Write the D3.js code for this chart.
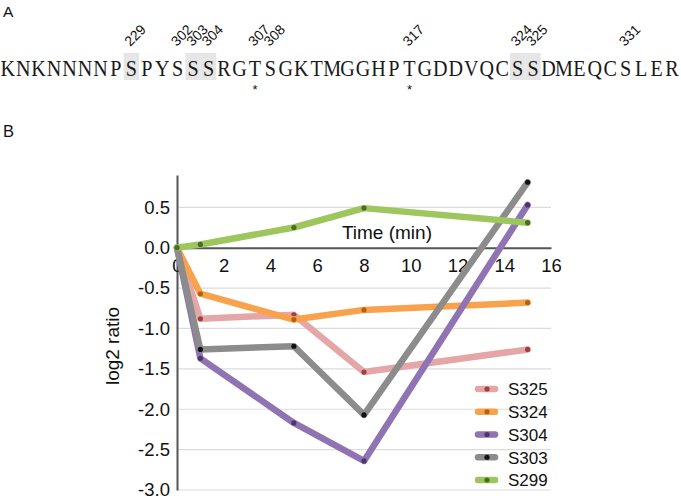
<!DOCTYPE html>
<html><head><meta charset="utf-8">
<script src="https://cdn.jsdelivr.net/npm/d3@7"></script>
<style>body{margin:0;background:#fff}svg{display:block}</style>
</head><body>
<svg id="c" width="681" height="503"></svg>
<script>
// Panel A data
const sequence = "KNKNNNNPSPYSSSRGTSGKTMGGHPTGDDVQCSSDMEQCSLER";
const siteLabels = ["229","302","303","304","307","308","317","324","325","331"];
const siteIndex = [8,11,12,13,16,17,26,33,34,40];
const highlightIndex = [8,12,13,33,34];
const asteriskIndex = [16,26];

// Panel B data
const times = [0,1,5,8,15];
const seriesNames = ["S325","S324","S304","S303","S299"];
const S325 = [0,-0.88,-0.83,-1.54,-1.26];
const S324 = [0,-0.57,-0.89,-0.77,-0.68];
const S304 = [0,-1.37,-2.17,-2.64,0.53];
const S303 = [0,-1.26,-1.22,-2.07,0.81];
const S299 = [0,0.04,0.25,0.49,0.31];
const xTicks = [0,2,4,6,8,10,12,14,16];
const yTicks = [0.5,0,-0.5,-1,-1.5,-2,-2.5,-3];

const seriesValues = [S325,S324,S304,S303,S299];
const lineColors = ["#e4a6a6","#f9a24d","#8f73b2","#8c8c8c","#9dc65c"];
const dotColors = ["#a13e3e","#b5620f","#4b3670","#111111","#4d6a27"];

const svg = d3.select("#c");
const font = "Arial, Liberation Sans, Helvetica, sans-serif";

// ---- Panel A ----
svg.append("text").attr("x",3).attr("y",17).attr("font-family",font)
  .attr("font-size",15.5).attr("fill","#111").text("A");
const cw = 15.45;
const seqX = d3.scaleLinear().domain([0,sequence.length]).range([0,cw*sequence.length]);
svg.selectAll("rect.hl").data(highlightIndex).enter().append("rect")
  .attr("x",d=>seqX(d)).attr("y",53).attr("width",cw).attr("height",27).attr("fill","#e6e6e6");
const sx = 0.84;
const seqText = svg.append("text").attr("transform",`scale(${sx},1)`)
  .attr("font-family","Liberation Serif, DejaVu Serif, serif").attr("font-size",24)
  .attr("fill","#1a1a1a").attr("text-anchor","middle");
seqText.selectAll("tspan").data(sequence.split("")).enter().append("tspan")
  .attr("x",(d,i)=>(seqX(i)+cw/2)/sx).attr("y",76).text(d=>d);
svg.selectAll("text.site").data(siteLabels).enter().append("text")
  .attr("font-family",font).attr("font-size",14).attr("fill","#111")
  .attr("transform",(d,i)=>`translate(${seqX(siteIndex[i])+cw/2-1},47) rotate(-45)`).text(d=>d);
svg.selectAll("text.ast").data(asteriskIndex).enter().append("text")
  .attr("x",d=>seqX(d)+cw/2).attr("y",94).attr("text-anchor","middle")
  .attr("font-family",font).attr("font-size",13).attr("fill","#111").text("*");

// ---- Panel B ----
svg.append("text").attr("x",3).attr("y",137).attr("font-family",font)
  .attr("font-size",16.5).attr("fill","#111").text("B");

const x = d3.scaleLinear().domain([0,16]).range([177,551]);
const y = d3.scaleLinear().domain([-3,0.9]).range([490,175]);

// gridlines
svg.append("g").selectAll("line").data(yTicks.filter(d=>d!==0)).enter().append("line")
  .attr("x1",x(0)).attr("x2",x(16)).attr("y1",d=>y(d)).attr("y2",d=>y(d))
  .attr("stroke","#dcdcdc").attr("stroke-width",1.2);

// y axis
const yAxis = d3.axisLeft(y).tickValues(yTicks).tickFormat(d=>d3.format(".1f")(d).replace("−","-")).tickSize(0).tickPadding(7);
const gy = svg.append("g").attr("transform",`translate(${x(0)},0)`).call(yAxis);
gy.select(".domain").attr("stroke","#555").attr("stroke-width",2);
gy.selectAll("text").attr("font-family",font).attr("font-size",18.5).attr("fill","#111");

// x axis at y=0
const xAxis = d3.axisBottom(x).tickValues(xTicks).tickSize(0).tickPadding(7);
const gx = svg.append("g").attr("transform",`translate(0,${y(0)})`).call(xAxis);
gx.select(".domain").attr("stroke","#555").attr("stroke-width",2);
gx.selectAll("text").attr("font-family",font).attr("font-size",18.5).attr("fill","#111").attr("dy","0.95em");

svg.append("text").attr("x",432).attr("y",239).attr("text-anchor","end")
  .attr("font-family",font).attr("font-size",19).attr("fill","#111").text("Time (min)");
svg.append("text").attr("transform",`translate(119,346) rotate(-90)`).attr("text-anchor","middle")
  .attr("font-family",font).attr("font-size",19).attr("fill","#111").text("log2 ratio");

// lines
const line = d3.line().x((d,i)=>x(times[i])).y(d=>y(d));
seriesValues.forEach((vals,k)=>{
  svg.append("path").datum(vals).attr("d",line).attr("fill","none")
    .attr("stroke",lineColors[k]).attr("stroke-width",6.5)
    .attr("stroke-linecap","round").attr("stroke-linejoin","round");
  svg.append("g").selectAll("circle").data(vals).enter().append("circle")
    .attr("cx",(d,i)=>x(times[i])).attr("cy",d=>y(d)).attr("r",2.6).attr("fill",dotColors[k]);
});

// legend
const ly = d3.scalePoint().domain(seriesNames).range([389,480]);
const lg = svg.append("g");
seriesNames.forEach((n,k)=>{
  lg.append("line").attr("x1",478).attr("x2",495).attr("y1",ly(n)).attr("y2",ly(n))
    .attr("stroke",lineColors[k]).attr("stroke-width",6.5).attr("stroke-linecap","round");
  lg.append("circle").attr("cx",487).attr("cy",ly(n)).attr("r",2.6).attr("fill",dotColors[k]);
  lg.append("text").attr("x",508).attr("y",ly(n)+6.3).attr("font-family",font).attr("font-size",17)
    .attr("fill","#111").text(n);
});
</script>
</body></html>
